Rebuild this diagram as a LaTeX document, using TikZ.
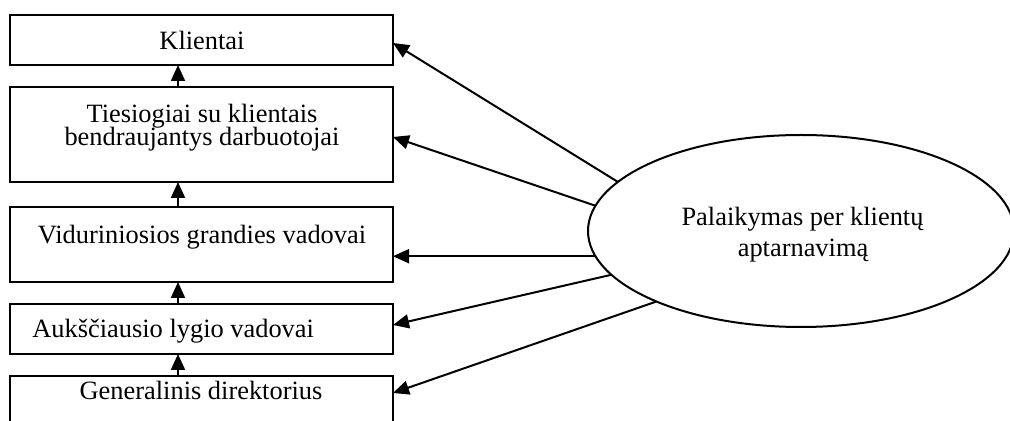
\documentclass[tikz,border=0pt]{standalone}
\usepackage{fontspec}
\setmainfont{Liberation Serif}
\usetikzlibrary{arrows.meta,shapes.geometric}
\begin{document}
\begin{tikzpicture}[x=0.5pt,y=-0.5pt,
  box/.style={draw,line width=1pt,rectangle,minimum width=191.5pt,inner sep=0pt,outer sep=0pt},
  lbl/.style={font=\fontsize{13.2}{15}\selectfont,inner sep=0pt,anchor=base},
  arr/.style={line width=1pt,-{Triangle[length=8pt,width=7pt]}},
]
\useasboundingbox (0,0) rectangle (1010,421);
\clip (0,0) rectangle (1010,421);

% hierarchy boxes, top to bottom
\node[box,minimum height=25pt]   (b1) at (201.5,40)    {};
\node[box,minimum height=47.5pt] (b2) at (201.5,134.5) {};
\node[box,minimum height=37.5pt] (b3) at (201.5,244.5) {};
\node[box,minimum height=25pt]   (b4) at (201.5,329)   {};
\node[box,minimum height=32pt]   (b5) at (201.5,408)   {};

% box captions
\node[lbl] (t1)  at (202,49.3)  {Klientai};
\node[lbl] (t2a) at (202,122.3) {Tiesiogiai su klientais};
\node[lbl] (t2b) at (202,146)   {bendraujantys darbuotojai};
\node[lbl] (t3)  at (202,244)   {Viduriniosios grandies vadovai};
\node[lbl,anchor=base west] (t4) at (32,338) {Aukščiausio lygio vadovai};
\node[lbl] (t5)  at (201,400)   {Generalinis direktorius};

% support ellipse
\node[draw,ellipse,line width=1pt,minimum width=213pt,minimum height=96pt,
      inner sep=0pt,outer sep=0pt] (e) at (801,231) {};
\node[lbl] (te1) at (802.5,226) {Palaikymas per klientų};
\node[lbl] (te2) at (803,256.7) {aptarnavimą};

% upward chain
\draw[arr] ([xshift=-11.75pt]b2.north) -- ([xshift=-11.75pt]b1.south);
\draw[arr] ([xshift=-11.75pt]b3.north) -- ([xshift=-11.75pt]b2.south);
\draw[arr] ([xshift=-11.75pt]b4.north) -- ([xshift=-11.75pt]b3.south);
\draw[arr] ([xshift=-11.75pt]b5.north) -- ([xshift=-11.75pt]b4.south);

% support arrows from the ellipse
\draw[arr] (e.165.9) -- ([yshift=-1.5pt]b1.east);
\draw[arr] (e.173.6) -- ([yshift=-1.25pt]b2.east);
\draw[arr] (e.187) -- (e.187 -| b3.east);
\draw[arr] (e.193.8) -- ([yshift=2pt]b4.east);
\draw[arr] (e.206.7) -- ([yshift=-8.5pt]b5.north east);
\end{tikzpicture}
\end{document}
